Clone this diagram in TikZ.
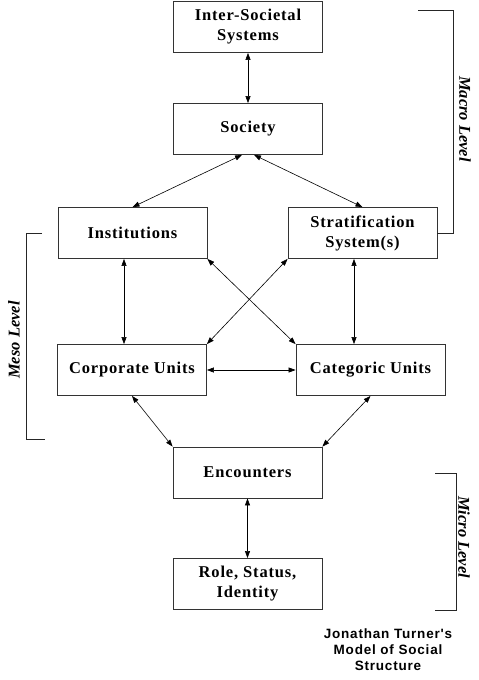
\documentclass[tikz,border=0pt]{standalone}
\usepackage{fontspec}
\setmainfont{Liberation Serif}
\newfontfamily\boxfont{Liberation Serif}[LetterSpace=5]
\newfontfamily\capfont{Liberation Sans}[LetterSpace=6]
\usepackage{tikz}
\usetikzlibrary{positioning, arrows.meta, calc}
\tikzset{
    tlevel/.style={draw=black!80, line width=0.8pt, minimum width=149pt, minimum height=51pt, align=center, inner sep=2pt, font=\boxfont\bfseries\fontsize{16.5}{20}\selectfont},
    tlink/.style={{Triangle[length=7pt,width=5pt]}-{Triangle[length=7pt,width=5pt]}, line width=0.6pt},
    tbracket/.style={draw=black!85, line width=0.8pt},
    tlbl/.style={font=\bfseries\itshape\fontsize{16.5}{20}\selectfont, inner sep=0pt},
}

\begin{document}
\begin{tikzpicture}[x=1pt, y=-1pt,
        capt/.style={font=\capfont\bfseries\fontsize{13.5}{16}\selectfont, align=center},
    ]
        \useasboundingbox (0,0) rectangle (479,680);
        \node[tlevel] (ist)   at (248,27)    {Inter-Societal\\Systems};
        \node[tlevel] (soc)   at (248,129)   {Society};
        \node[tlevel] (inst)  at (132.5,233) {Institutions};
        \node[tlevel] (strat) at (362.5,233) {Stratification\\System(s)};
        \node[tlevel] (corp)  at (132,370)   {Corporate Units};
        \node[tlevel] (cat)   at (370.5,370) {Categoric Units};
        \node[tlevel] (enc)   at (247.5,472.5) {Encounters};
        \node[tlevel] (role)  at (247.5,584) {Role, Status,\\Identity};
        \draw[tlink] (ist.south) -- (soc.north);
        \draw[tlink] ([xshift=-6pt]soc.south) -- (inst.north);
        \draw[tlink] ([xshift=6pt]soc.south) -- (strat.north);
        \draw[tlink] ([xshift=-8.5pt]inst.south) -- ([xshift=-8.5pt]inst.south |- corp.north);
        \draw[tlink] ([xshift=-8.5pt]strat.south) -- ([xshift=-8.5pt]strat.south |- cat.north);
        \draw[tlink] (inst.south east) -- (cat.north west);
        \draw[tlink] (strat.south west) -- (corp.north east);
        \draw[tlink] (corp.east) -- (cat.west);
        \draw[tlink] (corp.south) -- (enc.north west);
        \draw[tlink] (cat.south) -- (enc.north east);
        \draw[tlink] (enc.south) -- (role.north);
        % level brackets
        \coordinate (mesoT) at (42,233);
        \coordinate (mesoB) at (45,439);
        \coordinate (micT) at (435,473);
        \coordinate (micB) at (435,610);
        \draw[tbracket] (strat.east) -- ++(16,0) |- (418,10);
        \draw[tbracket] (mesoT) -- (26,233) |- (mesoB);
        \draw[tbracket] (micT) -- (456,473) |- (micB);
        \node[tlbl, rotate=-90] (macro) at (465,119) {Macro Level};
        \node[tlbl, rotate=90]  (meso)  at (14,340)  {Meso Level};
        \node[tlbl, rotate=-90] (micro) at (464,537) {Micro Level};
        \node[capt] (title) at (388,650) {Jonathan Turner's\\Model of Social\\Structure};
    \end{tikzpicture}
\end{document}
